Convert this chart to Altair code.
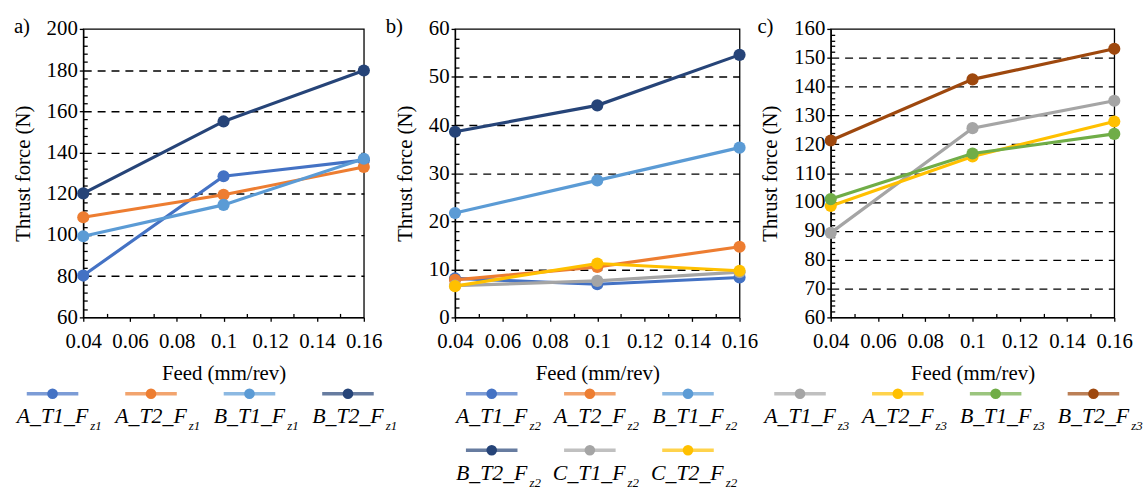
import altair as alt
import pandas as pd

FONT = "Liberation Serif"
feed = [0.04, 0.1, 0.16]

# ---- panel a ----
a_main = ["A_T1_F", "A_T2_F", "B_T1_F", "B_T2_F"]
a_sub = ["z1", "z1", "z1", "z1"]
a_colors = ["#4472C4", "#ED7D31", "#5B9BD5", "#264478"]
a_values = [
    [80.3, 128.5, 136.3],
    [108.6, 119.5, 133.0],
    [99.4, 114.6, 137.0],
    [120.2, 155.1, 179.8],
]

# ---- panel b ----
b_main = ["A_T1_F", "A_T2_F", "B_T1_F", "B_T2_F", "C_T1_F", "C_T2_F"]
b_sub = ["z2", "z2", "z2", "z2", "z2", "z2"]
b_colors = ["#4472C4", "#ED7D31", "#5B9BD5", "#264478", "#A5A5A5", "#FFC000"]
b_values = [
    [8.1, 6.9, 8.3],
    [7.8, 10.5, 14.7],
    [21.7, 28.5, 35.3],
    [38.6, 44.1, 54.6],
    [6.6, 7.6, 9.4],
    [6.5, 11.2, 9.7],
]

# ---- panel c ----
c_main = ["A_T1_F", "A_T2_F", "B_T1_F", "B_T2_F"]
c_sub = ["z3", "z3", "z3", "z3"]
c_colors = ["#A5A5A5", "#FFC000", "#70AD47", "#9E480E"]
c_values = [
    [89.3, 125.6, 135.1],
    [98.6, 115.8, 127.9],
    [101.0, 116.8, 123.6],
    [121.3, 142.5, 153.1],
]

x_ticks = [round(0.04 + 0.01 * i, 2) for i in range(13)]


def panel(tag, main, sub, colors, values, ymin, ymax, minor, major, width,
          title_dx, leg_range, ncol):
    k = tag[0]
    sf, ff, vf = f"series_{k}", f"feed_{k}", f"force_{k}"
    names = [m + s for m, s in zip(main, sub)]
    rows = []
    for n, v in zip(names, values):
        for f, val in zip(feed, v):
            rows.append({sf: n, ff: f, vf: val})
    df = pd.DataFrame(rows)

    color = alt.Color(f"{sf}:N", scale=alt.Scale(domain=names, range=colors),
                      legend=None)
    ismaj_y = f"(abs(datum.value / {major} - round(datum.value / {major})) < 0.001)"
    y_vals = list(range(ymin, ymax + 1, minor))
    yaxis = alt.Axis(
        values=y_vals,
        title="Thrust force (N)",
        titleFont=FONT, titleFontSize=21, titleFontWeight="normal",
        titleColor="black", titlePadding=13,
        labelFont=FONT, labelFontSize=21, labelColor="black",
        labelExpr=f"{ismaj_y} ? datum.label : ''", format="d",
        labelPadding=2, labelOverlap=False, labelFlush=False,
        domainColor="black", domainWidth=1.3,
        tickColor="black", tickWidth=1.3,
        tickSize={"expr": f"{ismaj_y} ? 4 : -4"},
        grid=True, gridColor="black", gridWidth=1.4, gridDash=[8, 6],
        gridOpacity={"expr": f"({ismaj_y} && datum.value > {ymin} + 0.5 && datum.value < {ymax} - 0.5) ? 1 : 0"},
    )
    ismaj_x = "(round(datum.value * 100) % 2 == 0)"
    xaxis = alt.Axis(
        values=x_ticks,
        title="Feed (mm/rev)",
        titleFont=FONT, titleFontSize=21, titleFontWeight="normal",
        titleColor="black", titlePadding=12,
        labelFont=FONT, labelFontSize=21, labelColor="black",
        labelExpr=f"{ismaj_x} ? datum.label : ''", format="~g",
        labelPadding=9, labelOverlap=False, labelFlush=False,
        domainColor="black", domainWidth=1.3,
        tickColor="black", tickWidth=1.3,
        tickSize={"expr": f"{ismaj_x} ? 4 : -4"},
        grid=False,
    )
    x = alt.X(f"{ff}:Q", scale=alt.Scale(domain=[0.04, 0.16], nice=False, zero=False),
              axis=xaxis)
    y = alt.Y(f"{vf}:Q", scale=alt.Scale(domain=[ymin, ymax], nice=False, zero=False),
              axis=yaxis)

    layers = []
    for n in names:
        base = alt.Chart(df).transform_filter(alt.datum[sf] == n)
        layers.append(base.mark_line(strokeWidth=3.2).encode(x=x, y=y, color=color))
        layers.append(base.mark_point(filled=True, size=150, opacity=1).encode(
            x=x, y=y, color=color))
    plot = alt.layer(*layers)

    lidx, lrow = f"idx_{k}", f"row_{k}"
    leg_rows = []
    for i, (n, m, s) in enumerate(zip(names, main, sub)):
        leg_rows.append({sf: n, lidx: i % ncol, lrow: i // ncol,
                         "main": m, "sub": s})
    ldf = pd.DataFrame(leg_rows)
    lx = alt.X(f"{lidx}:Q", scale=alt.Scale(domain=[0, ncol - 1], range=leg_range),
               axis=None)
    ly = alt.Y(f"{lrow}:Q", scale=alt.Scale(domain=[0, 1], range=[368, 425]),
               axis=None)
    lbase = alt.Chart(ldf)
    legend = alt.layer(
        lbase.mark_tick(orient="horizontal", size=52, thickness=3.5).encode(
            x=lx, y=ly, color=color),
        lbase.mark_point(filled=True, size=115, opacity=1).encode(
            x=lx, y=ly, color=color),
        lbase.mark_text(align="right", baseline="alphabetic", dx=36, dy=30,
                        font=FONT, fontSize=22, fontStyle="italic",
                        color="black").encode(x=lx, y=ly, text="main:N"),
        lbase.mark_text(align="left", baseline="alphabetic", dx=38, dy=37,
                        font=FONT, fontSize=13, fontStyle="italic",
                        color="black").encode(x=lx, y=ly, text="sub:N"),
    )
    return alt.layer(plot, legend).resolve_scale(
        x="independent", y="independent"
    ).properties(
        width=width, height=291,
        view=alt.ViewBackground(stroke="black", strokeWidth=1.3),
        title=alt.TitleParams(tag, anchor="start", frame="group", dx=title_dx,
                              offset=-19, font=FONT, fontSize=21,
                              fontWeight="normal", color="black"),
    )


colA = panel("a)", a_main, a_sub, a_colors, a_values, 60, 200, 4, 20, 283, -70,
             [-31, 267], 4)
colB = panel("b)", b_main, b_sub, b_colors, b_values, 0, 60, 2, 10, 287, -70,
             [37, 235], 3)
colC = panel("c)", c_main, c_sub, c_colors, c_values, 60, 160, 2, 10, 286, -74,
             [-31, 265], 4)

chart = alt.hconcat(colA, colB, colC, spacing=92, bounds="flush").resolve_scale(
    color="independent"
).properties(
    padding={"left": 11, "top": 13, "right": 2, "bottom": 2},
    background="white",
).configure_view(stroke="transparent")

chart.save("out.html", embed_options={"renderer": "svg", "actions": False})
